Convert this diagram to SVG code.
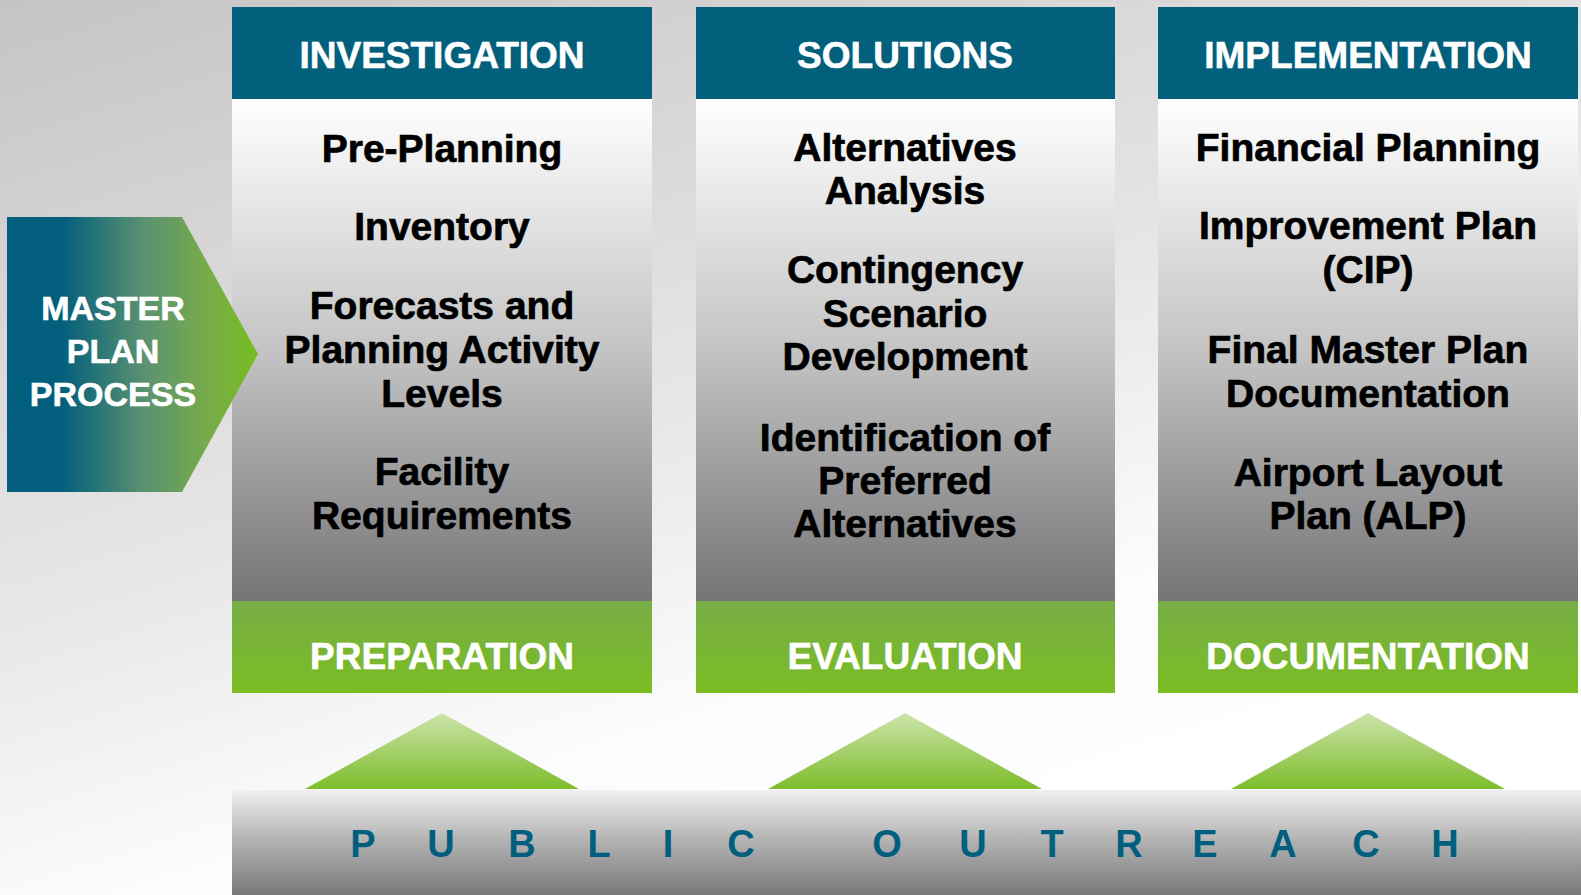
<svg xmlns="http://www.w3.org/2000/svg" width="1581" height="895" viewBox="0 0 1581 895">
  <defs>
    <linearGradient id="bg" x1="0" y1="0" x2="0.55" y2="1">
      <stop offset="0" stop-color="#c6c3c4"/>
      <stop offset="0.55" stop-color="#e9e8e9"/>
      <stop offset="0.8" stop-color="#fcfcfc"/>
      <stop offset="1" stop-color="#ffffff"/>
    </linearGradient>
    <linearGradient id="body" x1="0" y1="0" x2="0" y2="1">
      <stop offset="0" stop-color="#ffffff"/>
      <stop offset="0.5" stop-color="#c4c4c5"/>
      <stop offset="1" stop-color="#757577"/>
    </linearGradient>
    <linearGradient id="greenband" x1="0" y1="0" x2="0" y2="1">
      <stop offset="0" stop-color="#77ad46"/>
      <stop offset="1" stop-color="#7bbd23"/>
    </linearGradient>
    <linearGradient id="arrow" x1="7" y1="0" x2="258" y2="0" gradientUnits="userSpaceOnUse">
      <stop offset="0" stop-color="#025e7d"/>
      <stop offset="0.22" stop-color="#035f7c"/>
      <stop offset="0.55" stop-color="#5b9270"/>
      <stop offset="0.8" stop-color="#77ac4a"/>
      <stop offset="1" stop-color="#76bd1f"/>
    </linearGradient>
    <linearGradient id="tri" x1="0" y1="0" x2="0" y2="1">
      <stop offset="0" stop-color="#cde4ab"/>
      <stop offset="1" stop-color="#7cbd2b"/>
    </linearGradient>
    <linearGradient id="bar" x1="0" y1="0" x2="0" y2="1">
      <stop offset="0" stop-color="#f0f0f0"/>
      <stop offset="0.5" stop-color="#b0b0b1"/>
      <stop offset="1" stop-color="#79797b"/>
    </linearGradient>
    <style>
      .hdr { fill: #02607c; }
      .body { fill: url(#body); }
      .foot { fill: url(#greenband); }
      .title { font-family: "Liberation Sans", Arial, sans-serif; font-weight: 700; font-size: 37px; fill: #ffffff; stroke: #ffffff; stroke-width: 0.6px; text-anchor: middle; }
      .item { font-family: "Liberation Sans", Arial, sans-serif; font-weight: 700; font-size: 39px; fill: #000000; stroke: #000000; stroke-width: 0.7px; text-anchor: middle; }
      .mp { font-family: "Liberation Sans", Arial, sans-serif; font-weight: 700; font-size: 34px; fill: #ffffff; stroke: #ffffff; stroke-width: 0.6px; text-anchor: middle; }
      .po { font-family: "Liberation Sans", Arial, sans-serif; font-weight: 700; font-size: 38px; fill: #005f7e; text-anchor: middle; }
      .tri { fill: url(#tri); }
    </style>
  </defs>

  <rect x="0" y="0" width="1581" height="895" fill="url(#bg)"/>

  <g id="connectors">
    <polygon class="tri" points="442,713 579,789 305,789"/>
    <polygon class="tri" points="905,713 1042,789 768,789"/>
    <polygon class="tri" points="1368,713 1505,789 1231,789"/>
  </g>

  <g id="investigation">
    <rect class="body" x="232" y="99" width="420" height="502"/>
    <rect class="hdr" x="232" y="7" width="420" height="92"/>
    <rect class="foot" x="232" y="601" width="420" height="92"/>
    <text class="title" x="442" y="68">INVESTIGATION</text>
    <text class="item" x="442" y="162">Pre-Planning</text>
    <text class="item" x="442" y="240">Inventory</text>
    <text class="item" x="442" y="319">Forecasts and</text>
    <text class="item" x="442" y="363">Planning Activity</text>
    <text class="item" x="442" y="407">Levels</text>
    <text class="item" x="442" y="485">Facility</text>
    <text class="item" x="442" y="529">Requirements</text>
    <text class="title" x="442" y="669">PREPARATION</text>
  </g>

  <g id="solutions">
    <rect class="body" x="696" y="99" width="419" height="502"/>
    <rect class="hdr" x="696" y="7" width="419" height="92"/>
    <rect class="foot" x="696" y="601" width="419" height="92"/>
    <text class="title" x="905" y="68">SOLUTIONS</text>
    <text class="item" x="905" y="161">Alternatives</text>
    <text class="item" x="905" y="204">Analysis</text>
    <text class="item" x="905" y="283">Contingency</text>
    <text class="item" x="905" y="327">Scenario</text>
    <text class="item" x="905" y="370">Development</text>
    <text class="item" x="905" y="451">Identification of</text>
    <text class="item" x="905" y="494">Preferred</text>
    <text class="item" x="905" y="537">Alternatives</text>
    <text class="title" x="905" y="669">EVALUATION</text>
  </g>

  <g id="implementation">
    <rect class="body" x="1158" y="99" width="420" height="502"/>
    <rect class="hdr" x="1158" y="7" width="420" height="92"/>
    <rect class="foot" x="1158" y="601" width="420" height="92"/>
    <text class="title" x="1368" y="68">IMPLEMENTATION</text>
    <text class="item" x="1368" y="161">Financial Planning</text>
    <text class="item" x="1368" y="239">Improvement Plan</text>
    <text class="item" x="1368" y="283">(CIP)</text>
    <text class="item" x="1368" y="363">Final Master Plan</text>
    <text class="item" x="1368" y="407">Documentation</text>
    <text class="item" x="1368" y="486">Airport Layout</text>
    <text class="item" x="1368" y="529">Plan (ALP)</text>
    <text class="title" x="1368" y="669">DOCUMENTATION</text>
  </g>

  <g id="master-plan-process">
    <polygon points="7,217 182,217 258,354 182,492 7,492" fill="url(#arrow)"/>
    <text class="mp" x="113" y="320">MASTER</text>
    <text class="mp" x="113" y="363">PLAN</text>
    <text class="mp" x="113" y="406">PROCESS</text>
  </g>

  <g id="public-outreach">
    <rect x="232" y="790" width="1349" height="105" fill="url(#bar)"/>
    <text class="po" y="857"><tspan x="363">P</tspan><tspan x="441">U</tspan><tspan x="522">B</tspan><tspan x="599">L</tspan><tspan x="668">I</tspan><tspan x="741">C</tspan><tspan x="887">O</tspan><tspan x="973">U</tspan><tspan x="1052">T</tspan><tspan x="1129">R</tspan><tspan x="1205">E</tspan><tspan x="1283">A</tspan><tspan x="1366">C</tspan><tspan x="1445">H</tspan></text>
  </g>
</svg>
